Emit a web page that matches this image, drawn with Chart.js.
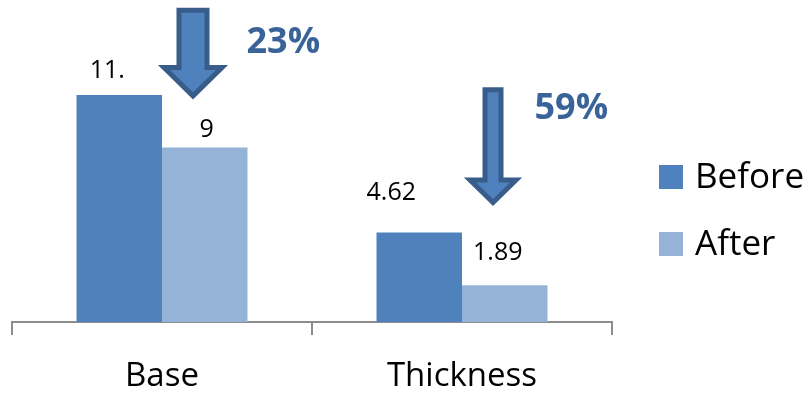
<!DOCTYPE html>
<html>
<head>
<meta charset="utf-8">
<script src="https://cdn.jsdelivr.net/npm/chart.js@4.4.1/dist/chart.umd.min.js"></script>
<style>
  html, body { margin: 0; padding: 0; background: #fff; }
  #box { width: 812px; height: 394px; }
</style>
</head>
<body>
<div id="box"><canvas id="chart" width="812" height="394"></canvas></div>
<script>
// chart data
const categories = ['Base', 'Thickness'];
const seriesNames = ['Before', 'After'];
const beforeValues = [11.7, 4.62];
const afterValues = [9, 1.89];
const beforeLabels = ['11.', '4.62'];
const afterLabels = ['9', '1.89'];

// arrow annotations, in data units (top of shaft, start of head, tip)
const arrowTop = [16.2, 12.1];
const arrowHead = [13.25, 7.45];
const arrowTip = [11.45, 5.95];
const dropLabels = ['23%', '59%'];

const colors = ['#4F81BD', '#95B3D7'];
const FONT = '"Open Sans", "Noto Sans", sans-serif';

// hand-tuned label nudges (x from bar centre, baseline from bar top)
const labelNudge = [
  [[-12, -17], [2, -10]],
  [[-28, -32], [-7, -25]]
];
const arrowStyle = [
  { dx: 31, shaftW: 33, headW: 68, textDx: 37, textBase: 53 },
  { dx: 31, shaftW: 21, headW: 56, textDx: 31, textBase: 119 }
];

const drawArrow = (ctx, cx, top, head, tip, sw, hw) => {
  const lw = 5, h = lw / 2;
  ctx.beginPath();
  ctx.moveTo(cx - sw / 2 + h, top + h);
  ctx.lineTo(cx + sw / 2 - h, top + h);
  ctx.lineTo(cx + sw / 2 - h, head + h);
  ctx.lineTo(cx + hw / 2 - h * 2, head + h);
  ctx.lineTo(cx, tip - h * 1.6);
  ctx.lineTo(cx - hw / 2 + h * 2, head + h);
  ctx.lineTo(cx - sw / 2 + h, head + h);
  ctx.closePath();
  ctx.fillStyle = '#4F81BD';
  ctx.fill();
  ctx.lineWidth = lw;
  ctx.lineJoin = 'miter';
  ctx.strokeStyle = '#385D8A';
  ctx.stroke();
};

const extras = {
  id: 'extras',
  afterDatasetsDraw(chart) {
    const { ctx, scales: { x, y } } = chart;
    const labelSets = [beforeLabels, afterLabels];
    ctx.save();

    // value labels above bars
    ctx.font = `25px ${FONT}`;
    ctx.fillStyle = '#000';
    ctx.textAlign = 'center';
    ctx.textBaseline = 'alphabetic';
    labelSets.forEach((labels, ds) => {
      chart.getDatasetMeta(ds).data.forEach((bar, i) => {
        const [dx, dy] = labelNudge[i][ds];
        ctx.fillText(labels[i], bar.x + dx, bar.y + dy);
      });
    });

    // drop arrows + percentages
    categories.forEach((c, i) => {
      const st = arrowStyle[i];
      const cx = x.getPixelForValue(i) + st.dx;
      drawArrow(ctx, cx, y.getPixelForValue(arrowTop[i]), y.getPixelForValue(arrowHead[i]),
        y.getPixelForValue(arrowTip[i]), st.shaftW, st.headW);
      ctx.font = `bold 36px ${FONT}`;
      ctx.fillStyle = '#3A6399';
      ctx.textAlign = 'left';
      ctx.fillText(dropLabels[i], cx + st.shaftW / 2 + st.textDx, st.textBase);
    });

    // legend
    const lx = chart.chartArea.right + 47;
    ctx.font = `35px ${FONT}`;
    seriesNames.forEach((name, i) => {
      const top = 165 + i * 67;
      ctx.fillStyle = colors[i];
      ctx.fillRect(lx, top, 24, 24);
      ctx.fillStyle = '#000';
      ctx.textAlign = 'left';
      ctx.fillText(name, lx + 36, top + 23);
    });
    ctx.restore();
  }
};

new Chart(document.getElementById('chart'), {
  type: 'bar',
  data: {
    labels: categories,
    datasets: [
      { label: seriesNames[0], data: beforeValues, backgroundColor: colors[0] },
      { label: seriesNames[1], data: afterValues, backgroundColor: colors[1] }
    ]
  },
  options: {
    responsive: false,
    animation: false,
    categoryPercentage: 0.57,
    barPercentage: 1,
    layout: { padding: { left: 12, right: 200, top: 0, bottom: 0 } },
    plugins: { legend: { display: false }, tooltip: { enabled: false } },
    scales: {
      x: {
        afterFit: (scale) => { scale.height = 72; },
        grid: { offset: true, drawOnChartArea: false, tickLength: 13, color: '#8c8c8c', lineWidth: 2 },
        border: { color: '#8c8c8c', width: 2 },
        ticks: { color: '#000', padding: 25, font: { family: FONT, size: 33, lineHeight: 1 } }
      },
      y: { display: false, min: 0, max: 16.6 }
    }
  },
  plugins: [extras]
});
</script>
</body>
</html>
